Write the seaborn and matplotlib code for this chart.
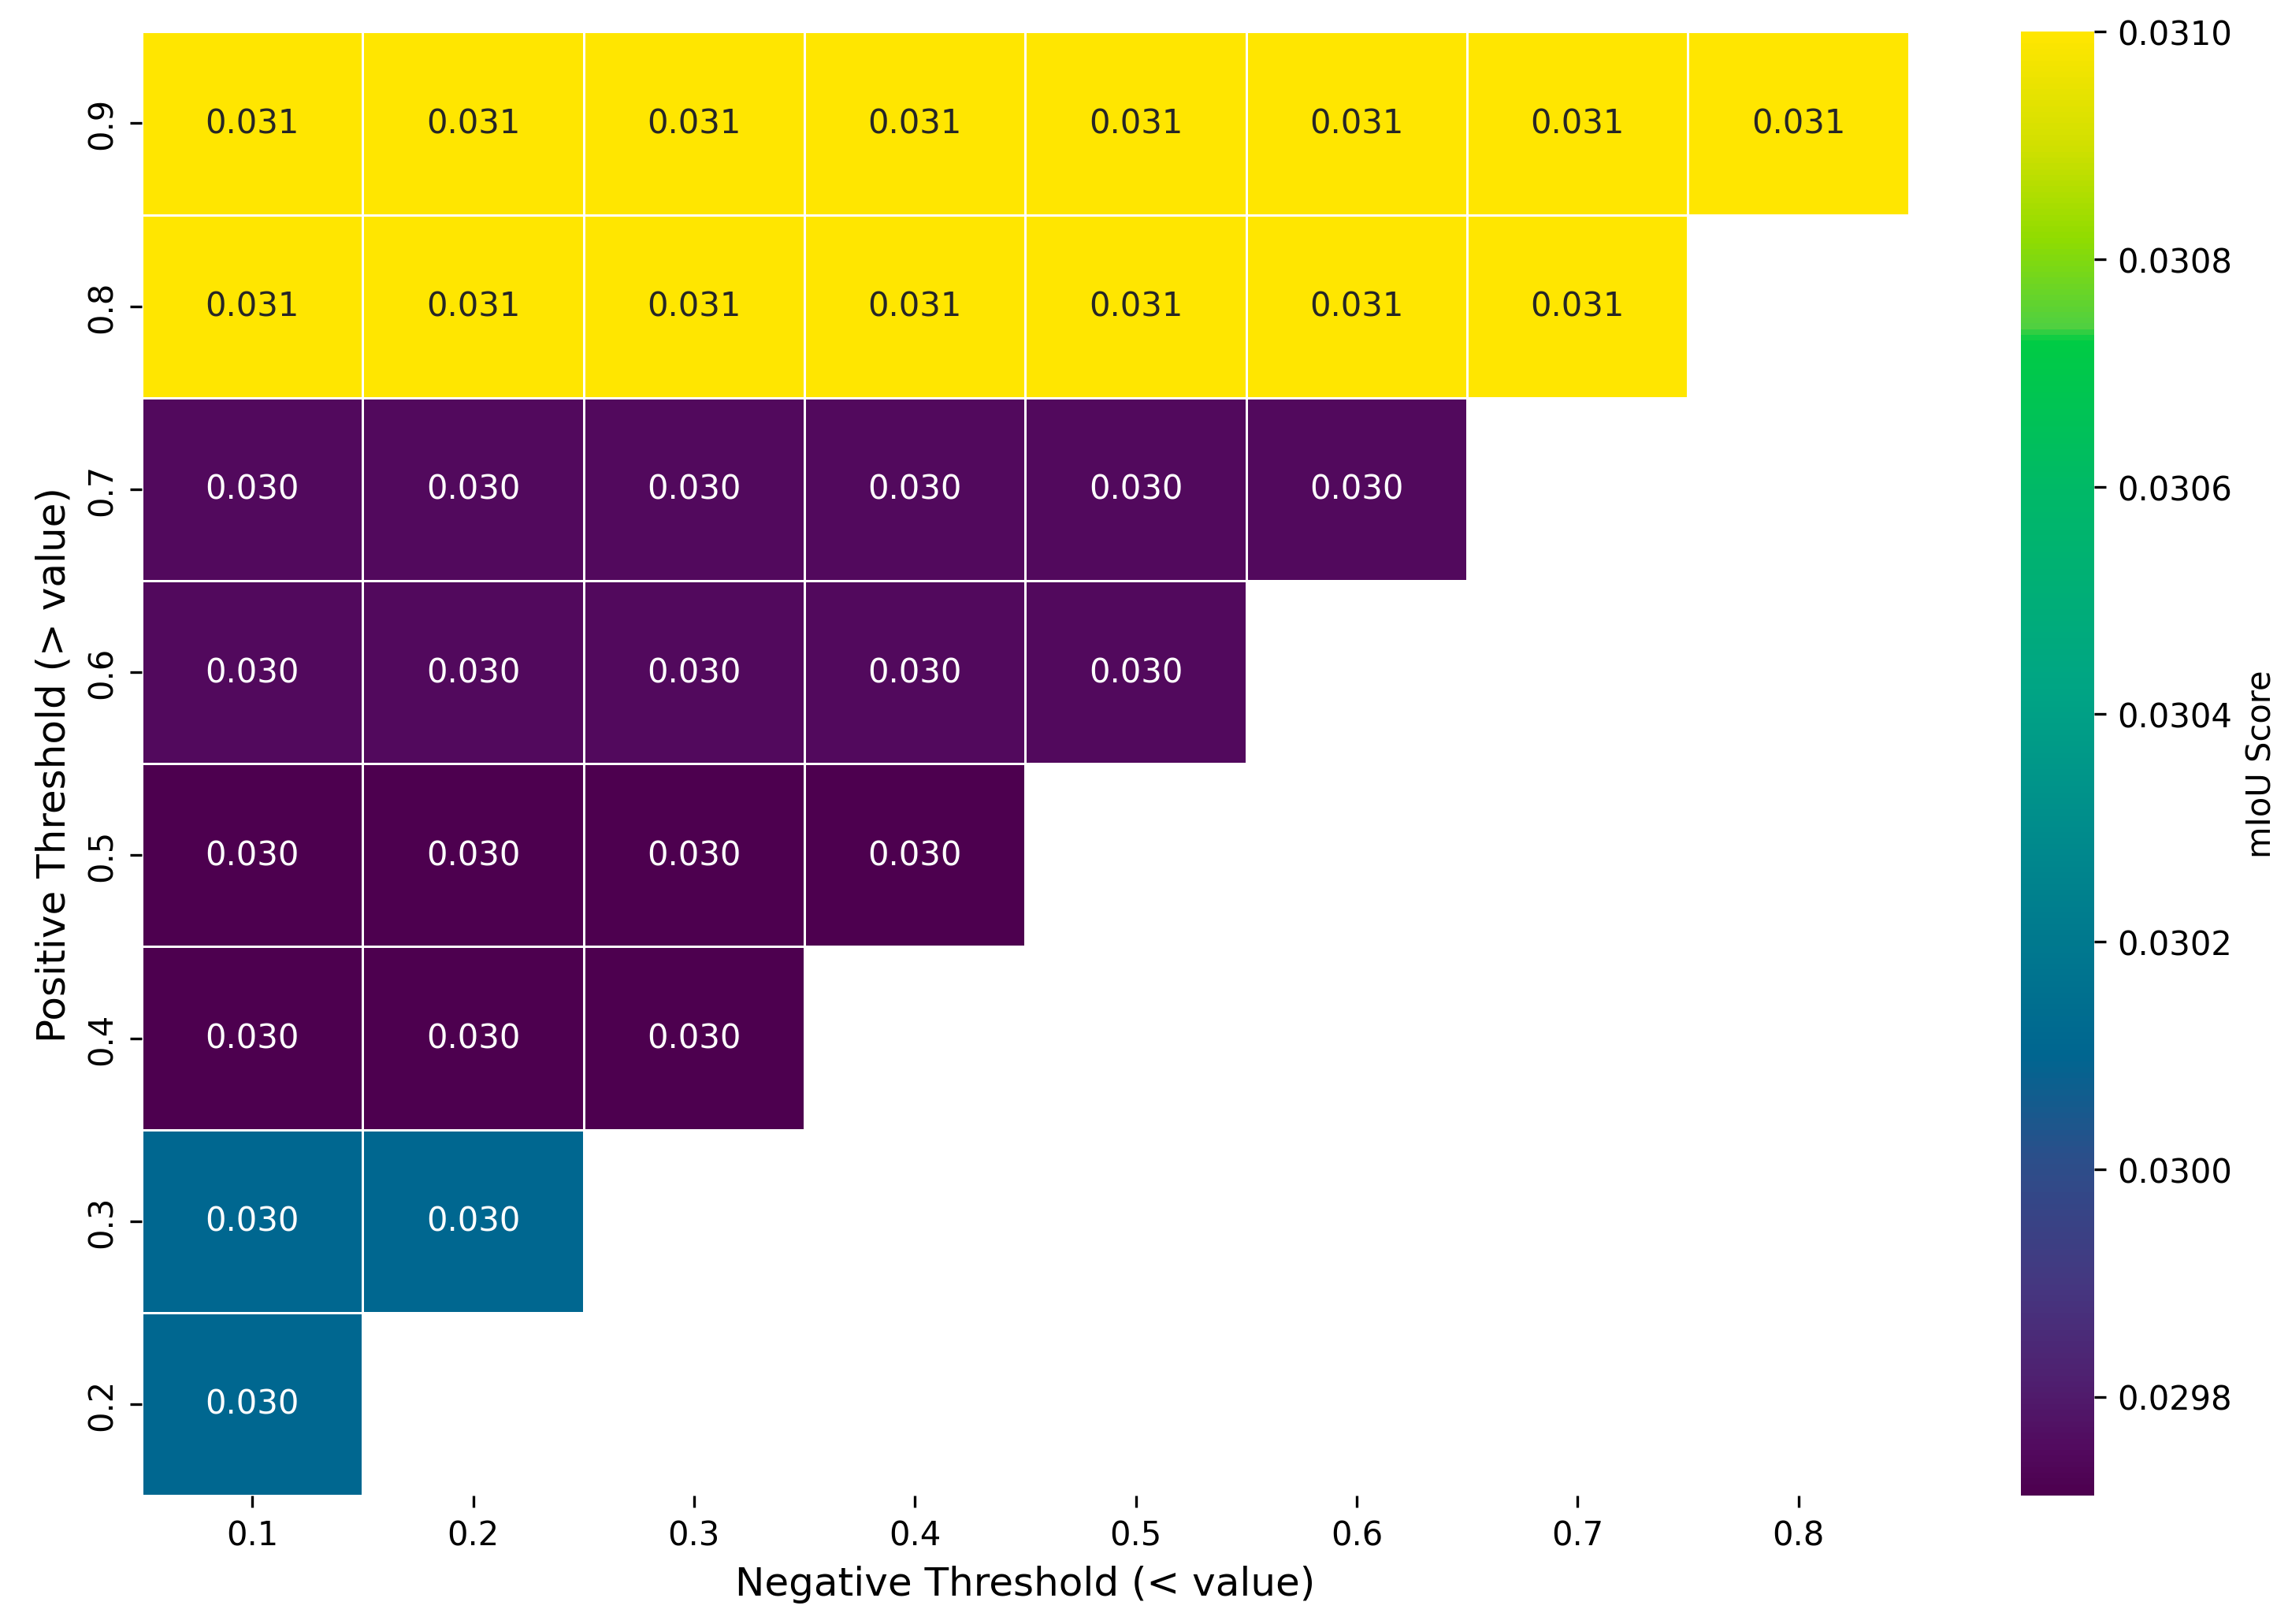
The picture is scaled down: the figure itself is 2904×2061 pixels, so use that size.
import numpy as np
import pandas as pd
import matplotlib
matplotlib.use("Agg")
import matplotlib.pyplot as plt
import seaborn as sns
from matplotlib.colors import LinearSegmentedColormap
from matplotlib.ticker import FormatStrFormatter

# thresholds
neg_thresholds = [0.1, 0.2, 0.3, 0.4, 0.5, 0.6, 0.7, 0.8]
pos_thresholds = [0.2, 0.3, 0.4, 0.5, 0.6, 0.7, 0.8, 0.9]

# mIoU per positive threshold row (same value across valid negative thresholds)
row_scores = {
    0.2: 0.03011,
    0.3: 0.03011,
    0.4: 0.029713,
    0.5: 0.029713,
    0.6: 0.02975,
    0.7: 0.02975,
    0.8: 0.03100,
    0.9: 0.03100,
}

# build matrix, only neg < pos is valid
grid = pd.DataFrame(np.nan, index=pos_thresholds, columns=neg_thresholds)
for p in pos_thresholds:
    for n in neg_thresholds:
        if n < p - 1e-9:
            grid.loc[p, n] = row_scores[p]
grid = grid.iloc[::-1]
mask = grid.isna()

# colour map sampled from the colour bar
cmap_stops = [
    (0.000, "#4d004f"),
    (0.030, "#520a5e"),
    (0.078, "#4f2070"),
    (0.143, "#453780"),
    (0.228, "#2c4e8a"),
    (0.300, "#006690"),
    (0.358, "#00748f"),
    (0.456, "#008c8c"),
    (0.554, "#00a584"),
    (0.684, "#00b868"),
    (0.790, "#00cc44"),
    (0.800, "#50d040"),
    (0.860, "#90dc00"),
    (0.925, "#d2e000"),
    (1.000, "#ffe600"),
]
cmap = LinearSegmentedColormap.from_list("miou", cmap_stops)

fig = plt.figure(figsize=(9.683, 6.873), dpi=300)
ax = fig.add_axes([0.062, 0.079, 0.772, 0.901])
cax = fig.add_axes([0.883, 0.079, 0.032, 0.901])

sns.heatmap(grid, mask=mask, annot=True, fmt=".3f", cmap=cmap,
            vmin=0.029713, vmax=0.03100, linewidths=0.7, linecolor="white",
            ax=ax, cbar_ax=cax, cbar_kws={"label": "mIoU Score"},
            xticklabels=[f"{v:.1f}" for v in neg_thresholds],
            yticklabels=[f"{v:.1f}" for v in grid.index])

ax.set_xlabel("Negative Threshold (< value)", fontsize=12)
ax.set_ylabel("Positive Threshold (> value)", fontsize=12)
ax.tick_params(axis="y", rotation=90)

cax.set_yticks(np.arange(0.0298, 0.03101, 0.0002))
cax.yaxis.set_major_formatter(FormatStrFormatter("%.4f"))

fig.savefig("out.png", dpi=300)
